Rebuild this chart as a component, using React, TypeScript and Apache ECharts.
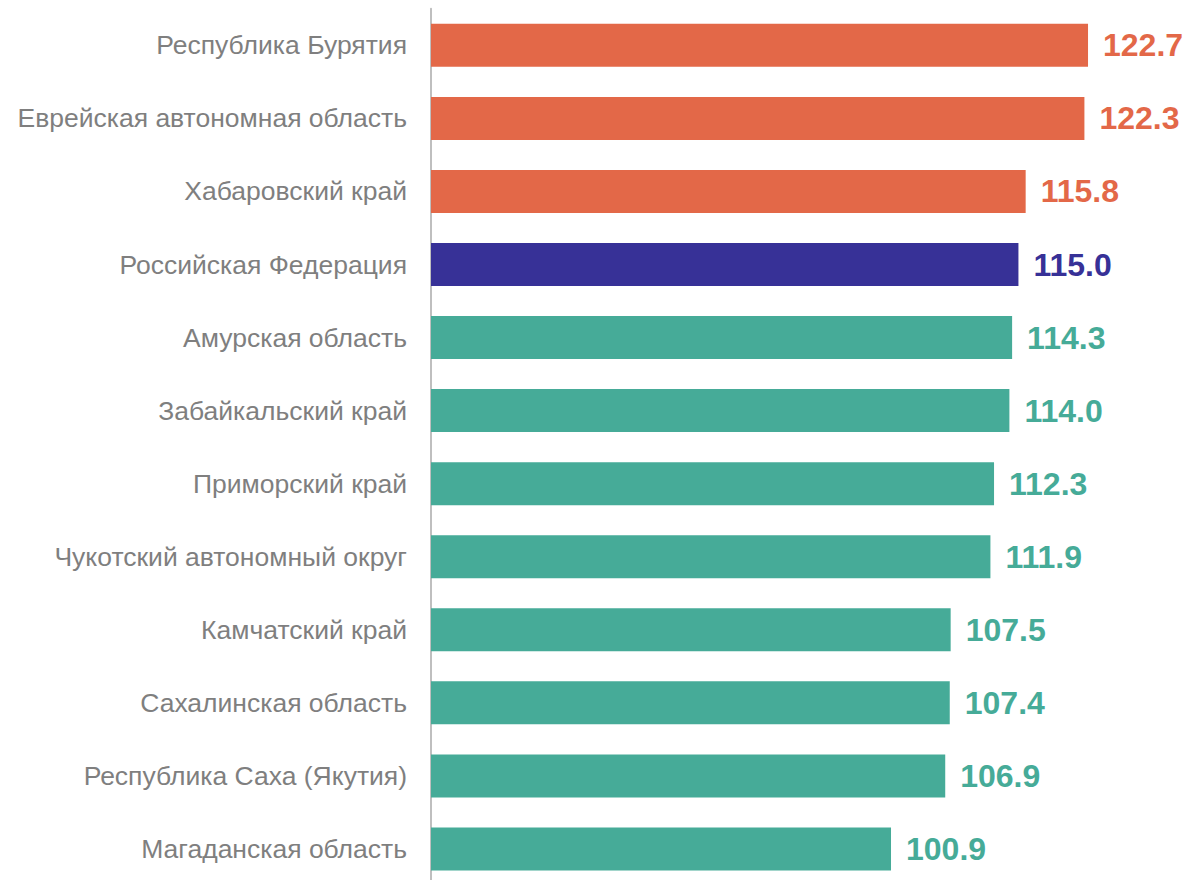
import React, { useEffect, useRef } from "react";
import * as echarts from "echarts";

const categories = [
  "Республика Бурятия",
  "Еврейская автономная область",
  "Хабаровский край",
  "Российская Федерация",
  "Амурская область",
  "Забайкальский край",
  "Приморский край",
  "Чукотский автономный округ",
  "Камчатский край",
  "Сахалинская область",
  "Республика Саха (Якутия)",
  "Магаданская область",
];
const values = [122.7, 122.3, 115.8, 115.0, 114.3, 114.0, 112.3, 111.9, 107.5, 107.4, 106.9, 100.9];
const groups = ["high", "high", "high", "rf", "low", "low", "low", "low", "low", "low", "low", "low"];
const groupColors: Record<string, string> = { high: "#E36848", rf: "#373197", low: "#46AB98" };

export default function App() {
  const ref = useRef<HTMLDivElement>(null);
  useEffect(() => {
    if (!ref.current) return;
    const chart = echarts.init(ref.current, undefined, { renderer: "svg" });
    chart.setOption({
      animation: false,
      grid: { left: 431, top: 8.8, width: 723, height: 876.7, containLabel: false },
      xAxis: {
        type: "value",
        min: 50,
        max: 130,
        show: false,
        splitLine: { show: false },
      },
      yAxis: {
        type: "category",
        data: categories,
        inverse: true,
        axisTick: { show: false },
        axisLine: { show: true, lineStyle: { color: "#BFBFBF", width: 2 } },
        axisLabel: {
          margin: 24,
          fontSize: 26.5,
          color: "#7F7F7F",
          fontFamily: "Arial, 'Liberation Sans', sans-serif",
        },
      },
      series: [
        {
          type: "bar",
          barWidth: 43,
          data: values.map((v, i) => ({
            value: v,
            itemStyle: { color: groupColors[groups[i]] },
            label: { color: groupColors[groups[i]] },
          })),
          label: {
            show: true,
            position: "right",
            distance: 15,
            fontSize: 32,
            fontWeight: "bold",
            fontFamily: "Arial, 'Liberation Sans', sans-serif",
            formatter: (p: any) => Number(p.value).toFixed(1),
          },
        },
      ],
    });
    return () => chart.dispose();
  }, []);
  return (
    <div
      ref={ref}
      style={{ position: "fixed", left: 0, top: 0, width: 1188, height: 892, background: "#fff" }}
    />
  );
}
